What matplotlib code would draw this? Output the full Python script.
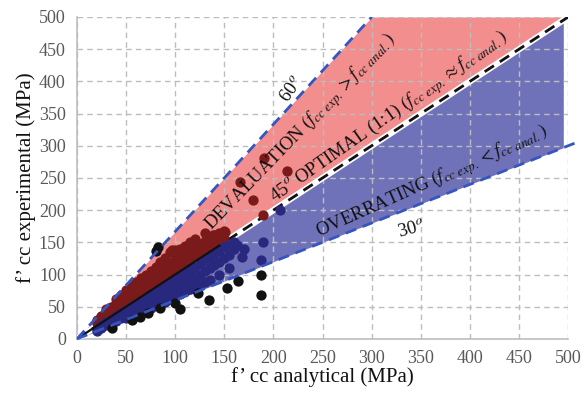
import matplotlib
matplotlib.use("Agg")
import matplotlib.pyplot as plt

plt.rcParams['font.family'] = ['Liberation Serif', 'DejaVu Serif']
plt.rcParams['mathtext.fontset'] = 'stix'

# --- data -------------------------------------------------------------
upper_line_x = [0, 300]
upper_line_y = [0, 500]
lower_line_x = [0, 510]
lower_line_y = [0, 306]
optimal_x = [0, 500]
optimal_y = [0, 500]
trend_x = [0, 145]
trend_y = [0, 145]

red_band_x = [0, 300, 500]
red_band_top = [0, 500, 500]
red_band_bottom = [0, 300, 500]

blue_band_x = [0, 495]
blue_band_top = [0, 495]
blue_band_bottom = [0, 297]

red_x = [20, 20, 25, 25, 30, 30, 30, 35, 35, 40, 40, 40, 45, 45, 45, 50, 50, 50,
         55, 55, 55, 60, 60, 60, 65, 65, 65, 70, 70, 70, 75, 75, 75, 80, 80, 80,
         85, 85, 85, 90, 90, 90, 95, 95, 95, 100, 100, 100, 105, 105, 105, 110, 110, 110,
         115, 115, 115, 120, 120, 120, 125, 125, 130, 130, 130, 135, 135, 140, 140,
         145, 145, 150, 150, 166, 179, 189, 190, 214, 97, 110, 139, 151]
red_y = [24, 30, 28, 36, 34, 42, 46, 40, 50, 46, 56, 62, 50, 60, 68, 56, 66, 76,
         62, 72, 82, 66, 78, 88, 72, 84, 95, 78, 90, 100, 82, 96, 106, 88, 100, 112,
         94, 106, 120, 98, 112, 126, 104, 118, 135, 108, 122, 138, 114, 128, 140, 118, 132, 145,
         124, 138, 150, 128, 142, 155, 134, 148, 138, 152, 165, 142, 156, 148, 161,
         152, 165, 157, 168, 243, 216, 193, 281, 261, 138, 143, 161, 166]

blue_x = [20, 20, 25, 25, 30, 30, 35, 35, 40, 40, 45, 45, 50, 50, 50, 55, 55, 55,
          60, 60, 60, 65, 65, 65, 70, 70, 70, 75, 75, 75, 80, 80, 80, 85, 85, 85,
          90, 90, 90, 95, 95, 95, 100, 100, 100, 105, 105, 105, 110, 110, 110,
          115, 115, 115, 120, 120, 120, 125, 125, 125, 130, 130, 130, 135, 135, 135,
          140, 140, 145, 145, 145, 150, 150, 155, 155, 155, 160, 160,
          163, 168, 187, 189, 207, 170]
blue_y = [16, 13, 21, 17, 26, 21, 30, 24, 35, 28, 40, 32, 45, 36, 32, 50, 40, 35,
          54, 45, 38, 59, 50, 42, 64, 54, 46, 69, 58, 48, 74, 62, 52, 78, 66, 55,
          83, 70, 58, 88, 75, 62, 92, 80, 66, 97, 84, 70, 102, 88, 74,
          107, 92, 77, 112, 96, 80, 117, 100, 84, 122, 105, 88, 127, 110, 92,
          132, 115, 137, 120, 100, 142, 125, 146, 130, 110, 150, 140,
          146, 127, 123, 151, 200, 140]

black_x = [83, 80, 36, 56, 64, 72, 85, 100, 105, 123, 134, 153, 164, 187, 187]
black_y = [143, 137, 17, 29, 34, 40, 48, 56, 47, 71, 61, 79, 90, 99, 68]

xticks = [0, 50, 100, 150, 200, 250, 300, 350, 400, 450, 500]
yticks = [0, 50, 100, 150, 200, 250, 300, 350, 400, 450, 500]

# --- figure -----------------------------------------------------------
fig = plt.figure(figsize=(5.87, 3.95), dpi=100)
ax = fig.add_axes([0.131, 0.142, 0.837, 0.815])

ax.fill_between(red_band_x, red_band_bottom, red_band_top, color='#F07A7A',
                alpha=0.85, linewidth=0, zorder=1)
ax.fill_between(blue_band_x, blue_band_bottom, blue_band_top, color='#4B4FA6',
                alpha=0.8, linewidth=0, zorder=1)

ax.grid(True, color='#BDBDBD', linestyle=(0, (4, 3)), linewidth=1.0, zorder=2)
ax.set_axisbelow(False)

ax.plot(optimal_x, optimal_y, color='white', linewidth=4.5, zorder=3, solid_capstyle='butt')
ax.plot(optimal_x, optimal_y, color='#111111', linewidth=2.0, linestyle=(0, (4, 2.5)), zorder=3)

ax.scatter(red_x, red_y, s=55, color='#7A1A1A', zorder=4, linewidths=0)
ax.scatter(blue_x, blue_y, s=55, color='#28287F', zorder=4, linewidths=0)
ax.scatter(black_x, black_y, s=55, color='#111111', zorder=4, linewidths=0)

ax.plot(trend_x, trend_y, color='#111111', linewidth=1.6, zorder=5)
ax.plot(upper_line_x, upper_line_y, color='#3655BE', linewidth=2.0, linestyle=(0, (4, 2.5)), zorder=6)
ax.plot(lower_line_x, lower_line_y, color='#3655BE', linewidth=2.0, linestyle=(0, (4, 2.5)),
        zorder=6, clip_on=False)

ax.set_xlim(0, 500)
ax.set_ylim(0, 500)
ax.set_xticks(xticks)
ax.set_yticks(yticks)
ax.tick_params(length=0, labelsize=13, colors='#595959', pad=8)
for s in ['top', 'right']:
    ax.spines[s].set_visible(False)
for s in ['left', 'bottom']:
    ax.spines[s].set_color('#BFBFBF')
    ax.spines[s].set_linewidth(1.2)

ax.set_xlabel('f’ cc analytical (MPa)', fontsize=15, color='#111111', labelpad=0)
ax.set_ylabel('f’ cc experimental (MPa)', fontsize=15, color='#111111', labelpad=2)

tk = dict(fontsize=13.5, color='#111111', ha='center', va='center', zorder=7,
          rotation_mode='anchor')
ax.text(228, 321, r'DEVALUATION $\left(f_{cc\ exp.} > f_{cc\ anal.}\right)$', rotation=46, **tk)
ax.text(318, 345, r'45$^{o}$ OPTIMAL (1:1) $\left(f_{cc\ exp.} \approx f_{cc\ anal.}\right)$',
        rotation=35, **tk)
ax.text(362, 244, r'OVERRATING $\left(f_{cc\ exp.} < f_{cc\ anal.}\right)$', rotation=24, **tk)
ax.text(219, 387, r'60$^{o}$', rotation=55, **tk)
ax.text(340, 169, r'30$^{o}$', rotation=15, **tk)

fig.savefig('out.png', dpi=100)
